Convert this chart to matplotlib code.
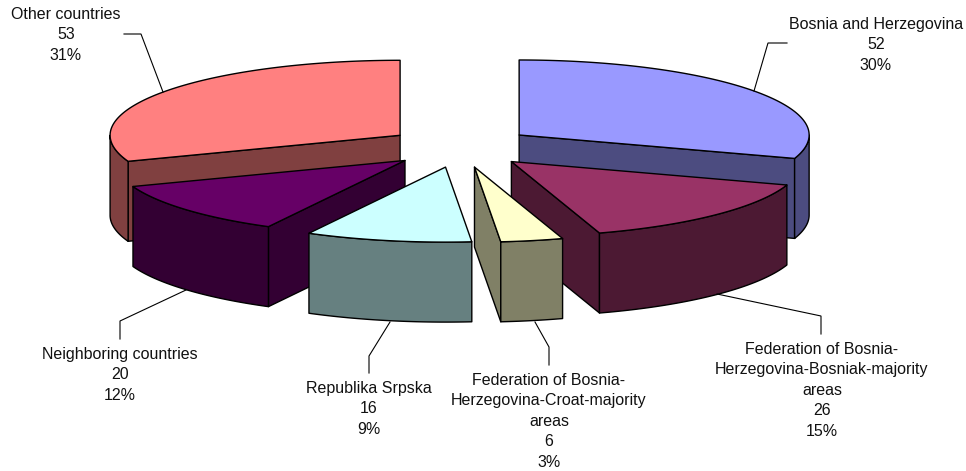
"""Exploded 3D pie: where the respondents come from. Projected by hand, pixel-like axes."""
import numpy as np
import matplotlib
matplotlib.use("Agg")
import matplotlib.pyplot as plt

plt.rcParams["font.family"] = ["Liberation Sans", "DejaVu Sans"]

# ---- data --------------------------------------------------------------------
names = ["Bosnia and Herzegovina",
         "Federation of Bosnia-\nHerzegovina-Bosniak-majority\nareas",
         "Federation of Bosnia-\nHerzegovina-Croat-majority\nareas",
         "Republika Srpska",
         "Neighboring countries",
         "Other countries"]
values = [52, 26, 6, 16, 20, 53]
percents = [30, 15, 3, 9, 12, 31]
top_colors = ["#9999FF", "#993366", "#FFFFCC", "#CCFFFF", "#660066", "#FF8080"]
side_colors = ["#4C4C80", "#4C1933", "#808066", "#668080", "#330033", "#804040"]

# label centre x, first line y
label_pos = [(876, 23), (822, 348), (549, 379), (369, 387), (120, 353), (66, 13)]
leaders = [
    [(787, 43), (768, 43), (754, 91)],
    [(821, 334), (821, 316), (717, 294)],
    [(549, 365), (549, 347), (535, 322)],
    [(369, 373), (369, 356), (390, 322)],
    [(120, 339), (120, 321), (186, 290)],
    [(124, 34), (141, 34), (163, 92)],
]

# ---- projection --------------------------------------------------------------
CX, CY = 460, 147       # pie centre before explosion
EX, EY = 73, 20.5       # explosion offset
A, B = 290, 75          # top ellipse
DEPTH = 80
DRAW_ORDER = [5, 0, 4, 1, 2, 3]
LW = 1.0

fig = plt.figure(figsize=(9.66, 4.71), dpi=100)
ax = fig.add_axes([0, 0, 1, 1])
ax.set_xlim(0, 966)
ax.set_ylim(471, 0)
ax.axis("off")

edges = np.cumsum([0] + values) / sum(values) * 2 * np.pi


def rim(ox, oy, t):
    return ox + A * np.sin(t), oy - B * np.cos(t)


def draw_slice(i):
    t1, t2 = edges[i], edges[i + 1]
    mid = (t1 + t2) / 2
    ox, oy = CX + EX * np.sin(mid), CY - EY * np.cos(mid)
    kw = dict(edgecolor="black", linewidth=LW, joinstyle="round")

    # flat walls, only those turned to the viewer
    for t, normal in ((t1, t1 - np.pi / 2), (t2, t2 + np.pi / 2)):
        if np.cos(normal) < 0:
            x, y = rim(ox, oy, t)
            ax.fill([ox, x, x, ox], [oy, y, y + DEPTH, oy + DEPTH],
                    facecolor=side_colors[i], **kw)

    # curved wall: the part of the rim in the front half
    lo, hi = max(t1, np.pi / 2), min(t2, 3 * np.pi / 2)
    if hi > lo:
        t = np.linspace(lo, hi, 80)
        x, y = rim(ox, oy, t)
        ax.fill(np.r_[x, x[::-1]], np.r_[y, y[::-1] + DEPTH],
                facecolor=side_colors[i], **kw)

    t = np.linspace(t1, t2, 160)
    x, y = rim(ox, oy, t)
    ax.fill(np.r_[ox, x], np.r_[oy, y], facecolor=top_colors[i], **kw)


for i in DRAW_ORDER:
    draw_slice(i)

for pts in leaders:
    xs, ys = zip(*pts)
    ax.plot(xs, ys, color="black", lw=0.8, solid_joinstyle="miter")

LINE = 20.4
for name, v, p, (x, y) in zip(names, values, percents, label_pos):
    lines = name.split("\n") + [str(v), f"{p}%"]
    for k, line in enumerate(lines):
        # baseline, so lines with and without descenders stay evenly spaced
        ax.text(x, y + 6 + k * LINE, line, ha="center", va="baseline",
                fontsize=11.55, color="#111111")

fig.savefig("out.png", dpi=100)
